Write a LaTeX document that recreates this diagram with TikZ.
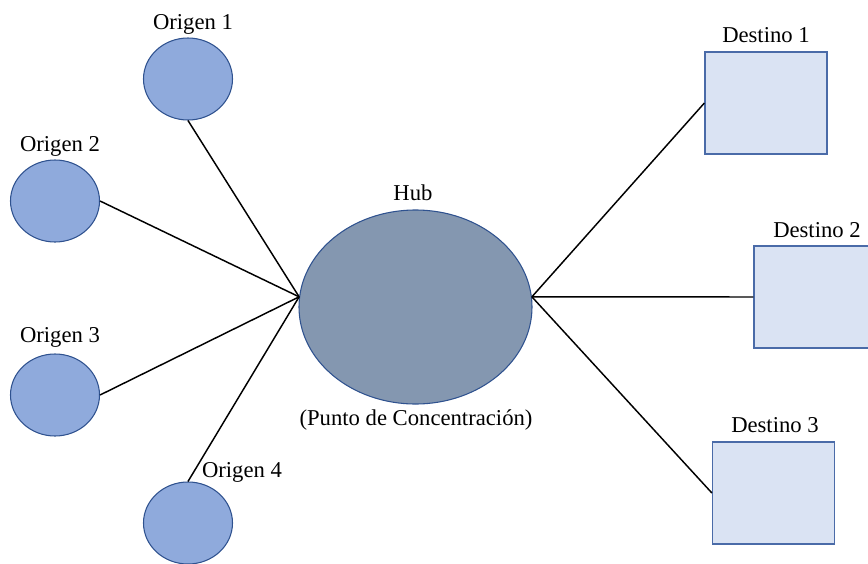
\documentclass[tikz,border=0pt]{standalone}
\usepackage{fontspec}
\setmainfont{Liberation Serif}
\usepackage{tikz}
\usetikzlibrary{positioning,shapes.geometric}

\definecolor{origfill}{HTML}{8FAADC}
\definecolor{hubfill}{HTML}{8497B0}
\definecolor{destfill}{HTML}{DAE3F3}
\definecolor{edgeblue}{HTML}{2F528F}
\definecolor{rectblue}{HTML}{4A6BA8}

\begin{document}
\begin{tikzpicture}[x=0.75pt,y=-0.75pt,
    origen/.style={ellipse,draw=edgeblue,fill=origfill,line width=0.8pt,
                   minimum width=66.75pt,minimum height=61.5pt,inner sep=0pt},
    hub/.style={ellipse,draw=edgeblue,fill=hubfill,line width=0.8pt,
                minimum width=174.75pt,minimum height=145.5pt,inner sep=0pt},
    destino/.style={rectangle,draw=rectblue,fill=destfill,line width=0.9pt,
                    minimum width=91.5pt,minimum height=76.5pt,inner sep=0pt},
    lbl/.style={anchor=base,inner sep=0pt,font=\fontsize{17}{20}\selectfont},
    link/.style={line width=1.1pt,black}]
  \useasboundingbox (0,0) rectangle (868,564);
  \clip (0,0) rectangle (868,564);
  % origenes
  \node[origen] (o1) at (188,79) {};
  \node[origen] (o2) at (55,201) {};
  \node[origen] (o3) at (55,395) {};
  \node[origen] (o4) at (188,523) {};
  % hub
  \node[hub] (hub) at (415.5,307) {};
  % destinos
  \node[destino] (d1) at (766,103) {};
  \node[destino] (d2) at (815,297) {};
  \node[destino] (d3) at (773.5,493) {};
  % conexiones
  \draw[link] (o1.south) -- (hub.175);
  \draw[link] (o2.east) -- (hub.175);
  \draw[link] (o3.east) -- (hub.175);
  \draw[link] (o4.north) -- (hub.175);
  \draw[link] (hub.5) -- (d1.west);
  \draw[link] (hub.5) -- (d2.west);
  \draw[link] (hub.5) -- (d3.west);
  % etiquetas
  \node[lbl] (lo1) at (193,29) {Origen 1};
  \node[lbl] (lo2) at (60,151) {Origen 2};
  \node[lbl] (lo3) at (60,342) {Origen 3};
  \node[lbl] (lo4) at (242,477) {Origen 4};
  \node[lbl] (lhub) at (413,200) {Hub};
  \node[lbl] (lpunto) at (416,425) {(Punto de Concentración)};
  \node[lbl] (ld1) at (766,42) {Destino 1};
  \node[lbl] (ld2) at (817,237) {Destino 2};
  \node[lbl] (ld3) at (775,432) {Destino 3};
\end{tikzpicture}
\end{document}
